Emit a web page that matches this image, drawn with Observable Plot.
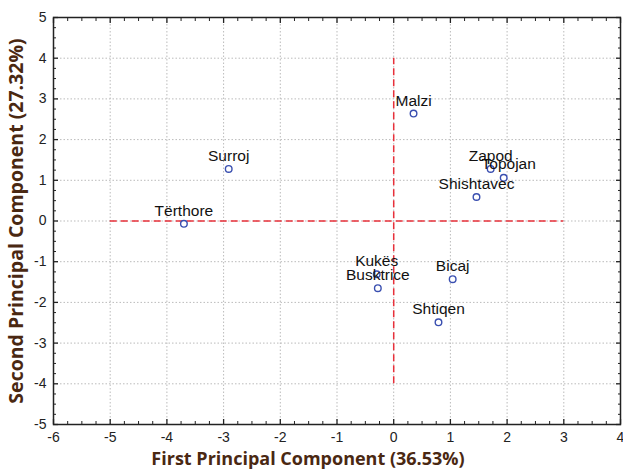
<!DOCTYPE html>
<html>
<head>
<meta charset="utf-8">
<script src="https://cdn.jsdelivr.net/npm/d3@7"></script>
<script src="https://cdn.jsdelivr.net/npm/@observablehq/plot@0.6"></script>
<style>
  html, body { margin: 0; padding: 0; background: #fff; }
  #chart svg { display: block; }
</style>
</head>
<body>
<div id="chart"></div>
<script>
// Data
const sites = ["Malzi", "Zapod", "Topojan", "Shishtavec", "Surroj", "Tërthore", "Kukës", "Busktrice", "Bicaj", "Shtiqen"];
const pc1 = [0.35, 1.71, 1.94, 1.46, -2.91, -3.70, -0.30, -0.28, 1.04, 0.79];
const pc2 = [2.64, 1.28, 1.06, 0.59, 1.28, -0.07, -1.31, -1.65, -1.43, -2.49];

const xTicks = [-6, -5, -4, -3, -2, -1, 0, 1, 2, 3, 4];
const yTicks = [-5, -4, -3, -2, -1, 0, 1, 2, 3, 4, 5];
const xGrid = [-5, -4, -3, -2, -1, 0, 1, 2, 3];
const yGrid = [-4, -3, -2, -1, 0, 1, 2, 3, 4];
const xMinor = d3.range(-6, 4.001, 0.25).filter(v => !Number.isInteger(v));
const yMinor = d3.range(-5, 5.001, 0.25).filter(v => !Number.isInteger(v));

const hRef = [{y: 0, x1: -5, x2: 3}];
const vRef = [{x: 0, y1: -4, y2: 4}];

const xTitle = "First Principal Component (36.53%)";
const yTitle = "Second Principal Component (27.32%)";

const points = sites.map((s, i) => ({name: s, x: pc1[i], y: pc2[i]}));

const titleColor = "#4a2812";
const fmt = d => String(d);

const chart = Plot.plot({
  width: 623,
  height: 470,
  marginLeft: 53,
  marginRight: 3,
  marginTop: 17,
  marginBottom: 46,
  style: {fontFamily: "Liberation Sans, Arial, sans-serif", fontSize: "14px", color: "#222", background: "#fff"},
  x: {domain: [-6, 4]},
  y: {domain: [-5, 5]},
  marks: [
    // grid
    Plot.ruleX(xGrid, {stroke: "#bbb", strokeDasharray: "1.5,2", strokeWidth: 1}),
    Plot.ruleY(yGrid, {stroke: "#bbb", strokeDasharray: "1.5,2", strokeWidth: 1}),
    // reference dashed lines
    Plot.ruleY(hRef, {y: "y", x1: "x1", x2: "x2", stroke: "#e8303a", strokeWidth: 1.5, strokeDasharray: "7,4"}),
    Plot.ruleX(vRef, {x: "x", y1: "y1", y2: "y2", stroke: "#e8303a", strokeWidth: 1.5, strokeDasharray: "7,4"}),
    // frame
    Plot.frame({stroke: "#222", strokeWidth: 1.5}),
    // minor ticks (inside)
    Plot.axisX(xMinor, {anchor: "bottom", tickSize: -3, text: null, label: null, stroke: "#222"}),
    Plot.axisX(xMinor, {anchor: "top", tickSize: -3, text: null, label: null, stroke: "#222"}),
    Plot.axisY(yMinor, {anchor: "left", tickSize: -3, text: null, label: null, stroke: "#222"}),
    Plot.axisY(yMinor, {anchor: "right", tickSize: -3, text: null, label: null, stroke: "#222"}),
    // major ticks (inside)
    Plot.axisX(xTicks, {anchor: "bottom", tickSize: -5, text: null, label: null, stroke: "#222", strokeWidth: 1.3}),
    Plot.axisX(xTicks, {anchor: "top", tickSize: -5, text: null, label: null, stroke: "#222", strokeWidth: 1.3}),
    Plot.axisY(yTicks, {anchor: "left", tickSize: -5, text: null, label: null, stroke: "#222", strokeWidth: 1.3}),
    Plot.axisY(yTicks, {anchor: "right", tickSize: -5, text: null, label: null, stroke: "#222", strokeWidth: 1.3}),
    // tick labels
    Plot.axisX(xTicks, {anchor: "bottom", tickSize: 0, tickPadding: 8, label: null, fill: "#222", fontSize: 14, tickFormat: fmt}),
    Plot.axisY(yTicks, {anchor: "left", tickSize: 0, tickPadding: 7, label: null, fill: "#222", fontSize: 14, tickFormat: fmt}),
    // points
    Plot.dot(points, {x: "x", y: "y", r: 3.3, stroke: "#3a4fb0", strokeWidth: 1.4, fill: "white"}),
    Plot.text(points.filter(d => d.name !== "Topojan"), {x: "x", y: "y", text: "name", dy: -13, fill: "#111", fontSize: 15.5, textAnchor: "middle"}),
    Plot.text(points.filter(d => d.name === "Topojan"), {x: "x", y: "y", text: "name", dy: -14, dx: 5, fill: "#111", fontSize: 15.5, textAnchor: "middle"}),
    // axis titles
    Plot.text([xTitle], {frameAnchor: "bottom", dy: 40, dx: -29, text: d => d, fill: titleColor, fontSize: 18, fontWeight: "bold", fontFamily: "Open Sans, sans-serif", textAnchor: "middle"}),
    Plot.text([yTitle], {frameAnchor: "left", dx: -37, rotate: -90, text: d => d, fill: titleColor, fontSize: 19.5, fontWeight: "bold", fontFamily: "Open Sans, sans-serif", textAnchor: "middle"})
  ]
});

document.getElementById("chart").appendChild(chart);
</script>
</body>
</html>
